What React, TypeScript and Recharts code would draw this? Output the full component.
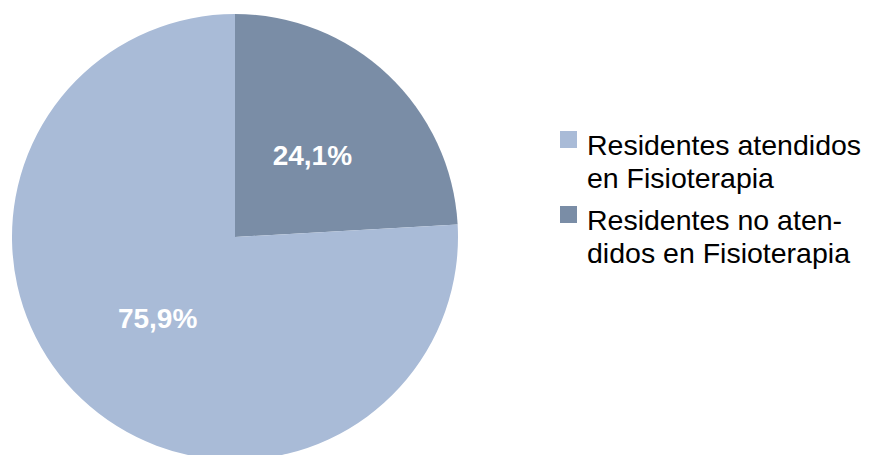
import { Cell, Legend, Pie, PieChart } from "recharts";

const categories = [
  "Residentes no atendidos en Fisioterapia",
  "Residentes atendidos en Fisioterapia",
];
const values = [24.1, 75.9];
const sliceColors = ["#7a8da6", "#a9bbd7"];
// legend shows the light slice first, with the line breaks of the original
const legendLines = [
  ["Residentes atendidos", "en Fisioterapia"],
  ["Residentes no aten-", "didos en Fisioterapia"],
];
const legendOrder = [1, 0];

const data = categories.map((name, i) => ({ name, value: values[i] }));

const RAD = Math.PI / 180;

function renderLabel(props: any) {
  const { cx, cy, midAngle, outerRadius, value } = props;
  const r = outerRadius * 0.505;
  const x = cx + r * Math.cos(-midAngle * RAD);
  const y = cy + r * Math.sin(-midAngle * RAD);
  return (
    <text
      x={x}
      y={y}
      fill="#ffffff"
      textAnchor="middle"
      dominantBaseline="central"
      fontSize={28}
      fontWeight="bold"
      fontFamily="'Liberation Sans', Arial, sans-serif"
    >
      {value.toFixed(1).replace(".", ",")}%
    </text>
  );
}

function PieLegend() {
  return (
    <div style={{ fontFamily: "'Liberation Sans', Arial, sans-serif" }}>
      {legendOrder.map((idx, k) => (
        <div key={idx} style={{ position: "relative", paddingLeft: 27, marginBottom: k === 0 ? 9 : 0 }}>
          <span
            style={{
              position: "absolute",
              left: 0,
              top: 2,
              width: 17,
              height: 17,
              backgroundColor: sliceColors[idx],
            }}
          />
          {legendLines[k].map((line) => (
            <div key={line} style={{ fontSize: 28.5, lineHeight: "33px", color: "#000", whiteSpace: "nowrap" }}>
              {line}
            </div>
          ))}
        </div>
      ))}
    </div>
  );
}

export default function App() {
  return (
    <div style={{ position: "absolute", left: 0, top: 0, width: 869, height: 455, background: "#fff" }}>
      <PieChart width={869} height={455} margin={{ top: 0, right: 0, bottom: 0, left: 0 }}>
        <Pie
          data={data}
          dataKey="value"
          nameKey="name"
          cx={235}
          cy={237}
          outerRadius={223}
          startAngle={90}
          endAngle={-270}
          stroke="none"
          label={renderLabel}
          labelLine={false}
          isAnimationActive={false}
        >
          {data.map((entry, i) => (
            <Cell key={entry.name} fill={sliceColors[i]} />
          ))}
        </Pie>
        <Legend
          content={<PieLegend />}
          wrapperStyle={{ left: 560, top: 129, width: 309, bottom: "auto" }}
        />
      </PieChart>
    </div>
  );
}
